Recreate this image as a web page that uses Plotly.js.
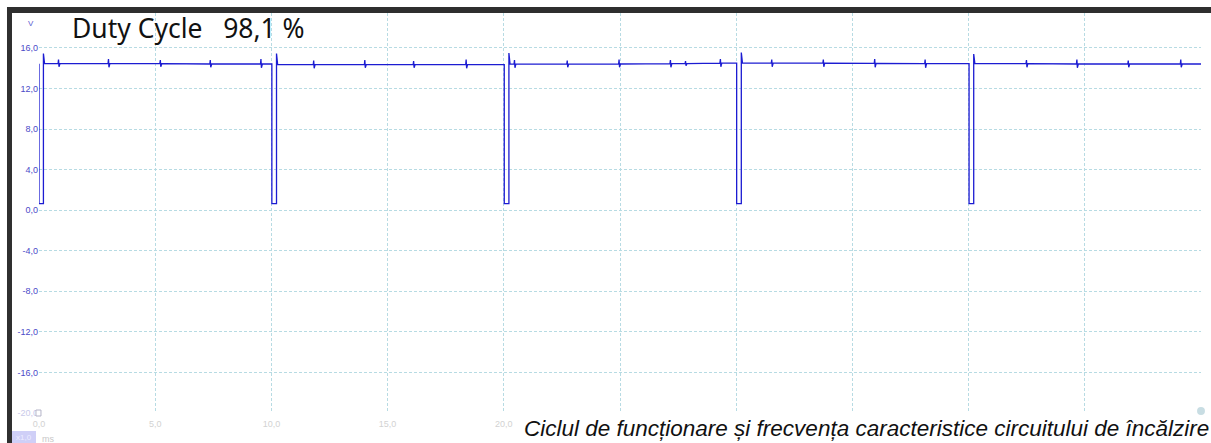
<!DOCTYPE html>
<html>
<head>
<meta charset="utf-8">
<script src="https://cdn.plot.ly/plotly-3.0.1.min.js"></script>
<style>
  html, body { margin: 0; padding: 0; background: #ffffff; }
  #chart { width: 1211px; height: 443px; }
</style>
</head>
<body>
<div id="chart"></div>
<script>
const timeMs = [
  0.00, 0.00, 0.19, 0.19, 0.24,
  0.82, 0.84, 0.86, 0.90,
  2.97, 2.99, 3.01, 3.05,
  5.20, 5.22, 5.24, 5.28,
  7.35, 7.37, 7.39, 7.43,
  9.53, 9.55, 9.57, 9.61,
  10.02, 10.02, 10.22, 10.22, 10.27,
  11.80, 11.82, 11.84, 11.88,
  14.00, 14.02, 14.04, 14.08,
  16.10, 16.12, 16.14, 16.18,
  18.36, 18.38, 18.40, 18.44,
  20.02, 20.02, 20.22, 20.22, 20.27,
  20.44, 20.46, 20.48, 20.52,
  22.71, 22.73, 22.75, 22.79,
  24.94, 24.96, 24.98, 25.02,
  27.15, 27.17, 27.19, 27.23,
  27.80, 27.82, 27.84, 27.88,
  29.30, 29.32, 29.34, 29.38,
  30.02, 30.02, 30.22, 30.22, 30.27,
  31.51, 31.53, 31.55, 31.59,
  33.73, 33.75, 33.77, 33.81,
  35.94, 35.96, 35.98, 36.02,
  38.11, 38.13, 38.15, 38.19,
  40.02, 40.02, 40.22, 40.22, 40.27,
  42.47, 42.49, 42.51, 42.55,
  44.64, 44.66, 44.68, 44.72,
  46.85, 46.87, 46.89, 46.93,
  49.11, 49.13, 49.15, 49.19,
  50.00
];
const voltsV = [
  14.45, 0.65, 0.65, 15.45, 14.45,
  14.45, 14.85, 14.15, 14.45,
  14.45, 14.90, 14.10, 14.45,
  14.45, 14.80, 14.15, 14.45,
  14.42, 14.80, 14.10, 14.42,
  14.42, 14.90, 14.05, 14.42,
  14.42, 0.65, 0.65, 15.45, 14.35,
  14.35, 14.75, 14.00, 14.35,
  14.35, 14.80, 14.05, 14.35,
  14.35, 14.70, 14.05, 14.35,
  14.35, 14.85, 14.00, 14.35,
  14.35, 0.65, 0.65, 15.50, 14.40,
  14.40, 14.80, 14.05, 14.40,
  14.40, 14.75, 14.10, 14.40,
  14.42, 14.85, 14.10, 14.42,
  14.45, 14.80, 14.10, 14.45,
  14.45, 14.70, 14.25, 14.45,
  14.50, 14.90, 14.15, 14.50,
  14.50, 0.65, 0.65, 15.55, 14.50,
  14.50, 14.85, 14.15, 14.50,
  14.50, 14.85, 14.15, 14.50,
  14.48, 14.90, 14.10, 14.48,
  14.45, 14.85, 14.05, 14.45,
  14.45, 0.65, 0.65, 15.40, 14.45,
  14.45, 14.80, 14.10, 14.45,
  14.42, 14.85, 14.05, 14.42,
  14.42, 14.75, 14.10, 14.42,
  14.42, 14.85, 14.10, 14.42,
  14.42
];
const xTickVals = [0, 5, 10, 15, 20, 25, 30, 35, 40, 45, 50];
// labels from 25,0 on sit behind the caption in the reference
const xTickText = ['0,0', '5,0', '10,0', '15,0', '20,0', '', '', '', '', '', ''];
const yTickVals = [-20, -16, -12, -8, -4, 0, 4, 8, 12, 16];
const yTickText = ['-20,0', '-16,0', '-12,0', '-8,0', '-4,0', '0,0', '4,0', '8,0', '12,0', '16,0'];
const titleText = 'Duty Cycle\u00a0\u00a0\u00a098,1 %';
const captionText = 'Ciclul de funcționare și frecvența caracteristice circuitului de încălzire';

const yTickHtml = yTickText.map(t => t === '-20,0'
  ? '<span style="color:#c9c9ea">' + t + '</span>'
  : t);

const trace = {
  x: timeMs,
  y: voltsV,
  type: 'scatter',
  mode: 'lines',
  line: { color: '#1c1cd2', width: 1.3 },
  hoverinfo: 'skip'
};

const gridColor = '#b7dbe3';
const layout = {
  width: 1211,
  height: 443,
  margin: { l: 39, r: 10, t: 13, b: 30, pad: 0 },
  paper_bgcolor: '#ffffff',
  plot_bgcolor: '#ffffff',
  showlegend: false,
  font: { family: 'Liberation Sans, Arial, sans-serif' },
  xaxis: {
    range: [0, 50],
    tickmode: 'array',
    tickvals: xTickVals,
    ticktext: xTickText,
    showgrid: true,
    gridcolor: gridColor,
    gridwidth: 1,
    griddash: '3px,2px',
    zeroline: false,
    showline: false,
    ticks: '',
    ticklabelstandoff: 4,
    tickfont: { size: 9, color: '#d2d2d2', family: 'Liberation Sans, Arial, sans-serif' },
    fixedrange: true
  },
  yaxis: {
    range: [-20, 19.45],
    tickmode: 'array',
    tickvals: yTickVals,
    ticktext: yTickHtml,
    showgrid: true,
    gridcolor: gridColor,
    gridwidth: 1,
    griddash: '3px,2px',
    zeroline: false,
    showline: false,
    ticks: '',
    tickfont: { size: 9, color: '#4a4ac8', family: 'Liberation Sans, Arial, sans-serif' },
    fixedrange: true
  },
  shapes: [
    { type: 'rect', xref: 'paper', yref: 'paper', x0: -0.02754, x1: -0.02324, y0: -0.08, y1: 1.015,
      fillcolor: '#2f2f2f', line: { width: 0 }, layer: 'above' },
    { type: 'rect', xref: 'paper', yref: 'paper', x0: -0.02754, x1: 1.01, y0: 1.0, y1: 1.015,
      fillcolor: '#2f2f2f', line: { width: 0 }, layer: 'above' },
    { type: 'rect', xref: 'paper', yref: 'paper', x0: -0.0026, x1: 0.0017, y0: -0.0075, y1: 0.0075,
      fillcolor: '#ffffff', line: { color: '#b4b4c8', width: 1 }, layer: 'above' },
    { type: 'circle', xref: 'paper', yref: 'paper', x0: 0.9966, x1: 1.0034, y0: -0.005, y1: 0.015,
      fillcolor: '#c8dde3', line: { width: 0 }, layer: 'above' },
    { type: 'rect', xref: 'paper', yref: 'paper', x0: -0.02324, x1: -0.00258, y0: -0.075, y1: -0.045,
      fillcolor: '#cfcff7', line: { width: 0 }, layer: 'above' }
  ],
  annotations: [
    { text: titleText, xref: 'paper', yref: 'paper', x: 0.0270, y: 0.9625,
      xanchor: 'left', yanchor: 'middle', showarrow: false,
      font: { family: 'Noto Sans, Open Sans, sans-serif', size: 26.5, color: '#111111' } },
    { text: 'V', xref: 'paper', yref: 'paper', x: -0.0065, y: 0.975,
      xanchor: 'center', yanchor: 'middle', showarrow: false,
      font: { size: 8, color: '#5a5ad0' } },
    { text: 'x1,0', xref: 'paper', yref: 'paper', x: -0.0129, y: -0.062,
      xanchor: 'center', yanchor: 'middle', showarrow: false,
      font: { size: 8, color: '#ececff' } },
    { text: 'ms', xref: 'paper', yref: 'paper', x: 0.0009, y: -0.065,
      xanchor: 'left', yanchor: 'middle', showarrow: false,
      font: { size: 9, color: '#c8c8c8' } },
    { text: captionText, xref: 'paper', yref: 'paper', x: 0.4165, y: -0.0375,
      xanchor: 'left', yanchor: 'middle', showarrow: false,
      borderpad: 0,
      font: { family: 'Liberation Sans, Arial, sans-serif', size: 22.5, color: '#111111', style: 'italic' } }
  ]
};

Plotly.newPlot('chart', [trace], layout, { staticPlot: true, displayModeBar: false });
</script>
</body>
</html>
